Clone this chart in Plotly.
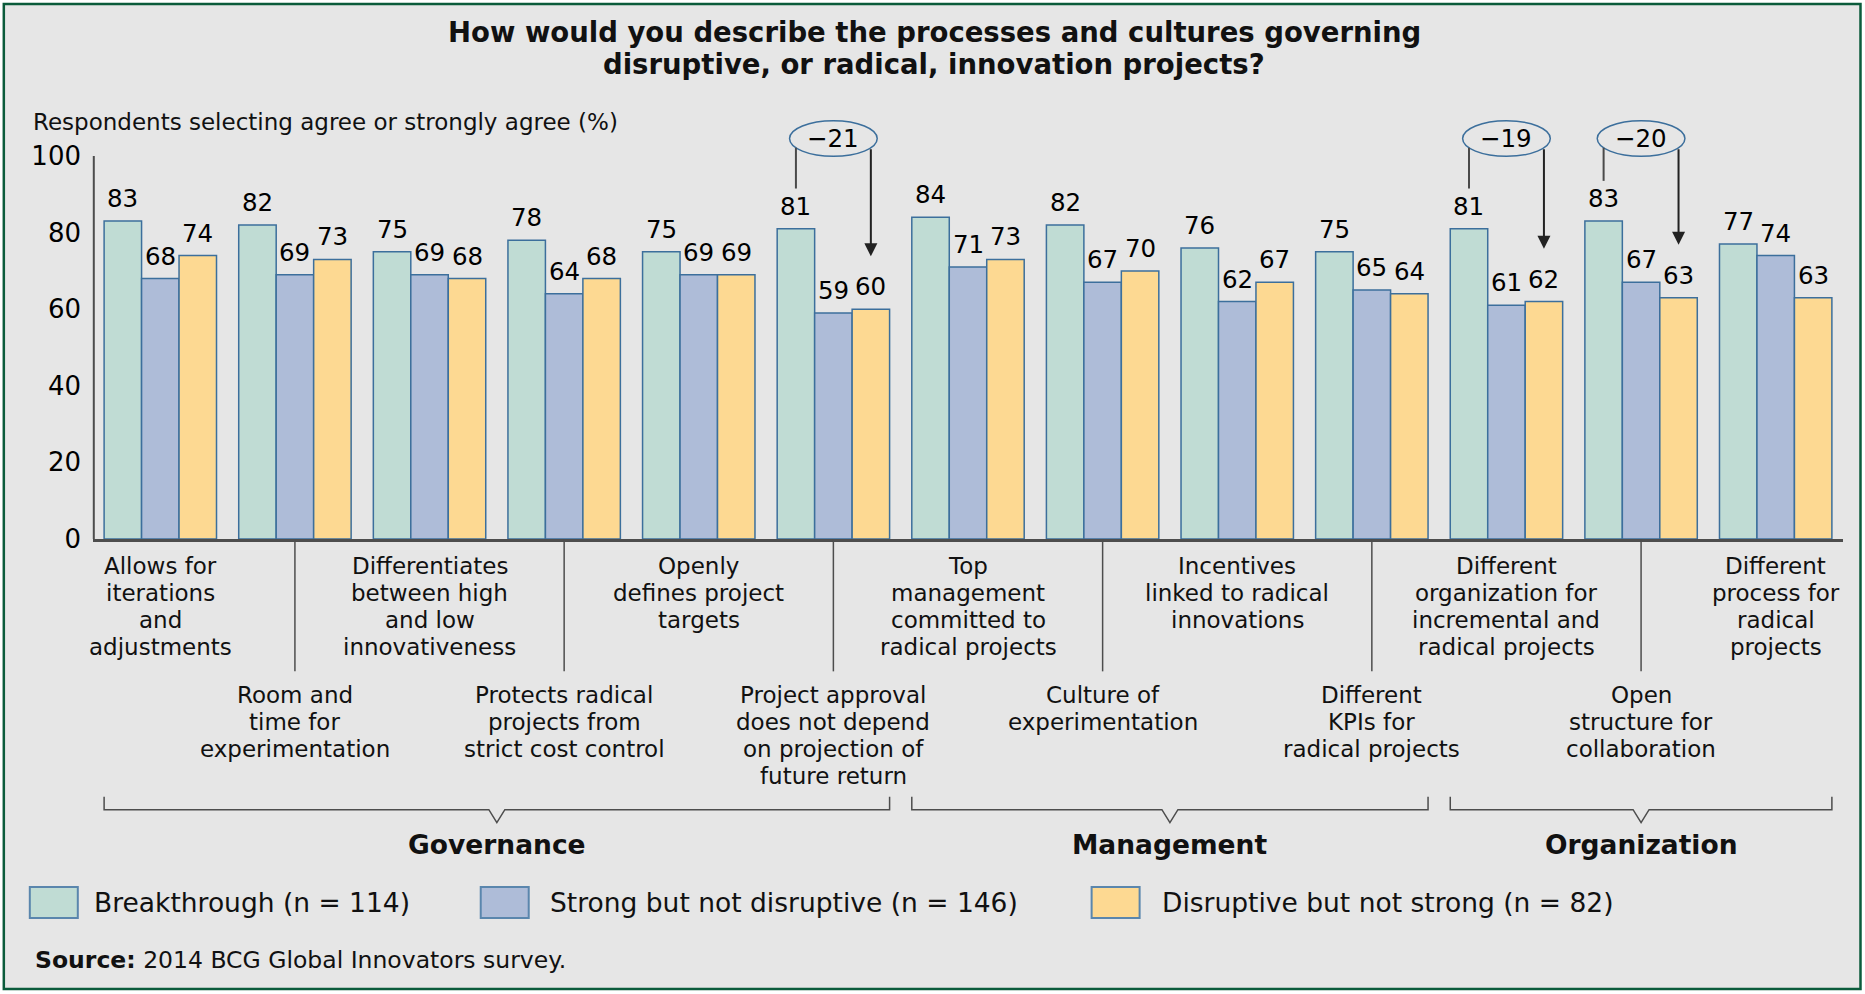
import plotly.graph_objects as go

# ---- data -------------------------------------------------------------
categories = [
    "Allows for\niterations\nand\nadjustments",
    "Room and\ntime for\nexperimentation",
    "Differentiates\nbetween high\nand low\ninnovativeness",
    "Protects radical\nprojects from\nstrict cost control",
    "Openly\ndefines project\ntargets",
    "Project approval\ndoes not depend\non projection of\nfuture return",
    "Top\nmanagement\ncommitted to\nradical projects",
    "Culture of\nexperimentation",
    "Incentives\nlinked to radical\ninnovations",
    "Different\nKPIs for\nradical projects",
    "Different\norganization for\nincremental and\nradical projects",
    "Open\nstructure for\ncollaboration",
    "Different\nprocess for\nradical\nprojects",
]
breakthrough = [83, 82, 75, 78, 75, 81, 84, 82, 76, 75, 81, 83, 77]
strong_not_disruptive = [68, 69, 69, 64, 69, 59, 71, 67, 62, 65, 61, 67, 74]
disruptive_not_strong = [74, 73, 68, 68, 69, 60, 73, 70, 67, 64, 62, 63, 63]
series_names = [
    "Breakthrough (n = 114)",
    "Strong but not disruptive (n = 146)",
    "Disruptive but not strong (n = 82)",
]
group_names = ["Governance", "Management", "Organization"]
group_first = [0, 6, 10]
group_last = [5, 9, 12]
callout_items = [5, 10, 11]
y_ticks = [0, 20, 40, 60, 80, 100]

# ---- styling ----------------------------------------------------------
W, H = 1865, 994
L, R, T, B = 93.2, 21.5, 110, 454.5
PW, PH = W - L - R, H - T - B
FONT = "DejaVu Sans"
TEXT = "#111111"
BG = "#e6e6e6"
FRAME = "#0b5b3b"
OUTLINE = "#3c6f9c"
AXIS = "#4d4d4d"
COLORS = ["#c0dcd4", "#aebcd8", "#fdd992"]
BARGAP = 0.165
BAR_W = (1 - BARGAP) / 3


def px(xp):
    """page pixel x -> paper x"""
    return (xp - L) / PW


def py(yp):
    """page pixel y (from top) -> paper y"""
    return (H - B - yp) / PH


n = len(categories)
xs = list(range(n))
series = [breakthrough, strong_not_disruptive, disruptive_not_strong]

fig = go.Figure()
for name, vals, color in zip(series_names, series, COLORS):
    fig.add_trace(go.Bar(
        x=xs, y=vals, name=name,
        marker=dict(color=color, line=dict(color=OUTLINE, width=1.5)),
        showlegend=False, hoverinfo="skip",
    ))

shapes = []
annotations = []

# value labels above each bar
for k, vals in enumerate(series):
    for i, v in enumerate(vals):
        annotations.append(dict(x=i + (k - 1) * BAR_W, y=v, xref="x", yref="y",
                                text=str(v), showarrow=False, yanchor="bottom",
                                yshift=6, font=dict(family=FONT, size=24.5, color="#000")))

# page background with thin green frame
shapes.append(dict(type="rect", xref="paper", yref="paper",
                   x0=px(4), x1=px(1861), y0=py(990), y1=py(4),
                   fillcolor=BG, line=dict(color=FRAME, width=2.5), layer="below"))

# vertical value axis line (0..100)
shapes.append(dict(type="line", xref="paper", yref="y",
                   x0=px(94), x1=px(94), y0=0, y1=100,
                   line=dict(color=AXIS, width=2)))

# separators between staggered category labels
for i in range(1, n, 2):
    shapes.append(dict(type="line", xref="x", yref="paper",
                       x0=i, x1=i, y0=py(539.5), y1=py(672),
                       line=dict(color=AXIS, width=1.5)))

# category labels, two staggered rows
LINE_H = 27
for i, cat in enumerate(categories):
    top = 567 if i % 2 == 0 else 695.5
    for k, line in enumerate(cat.split("\n")):
        annotations.append(dict(x=i, y=py(top + LINE_H * k), xref="x", yref="paper",
                                text=line, showarrow=False, yanchor="middle",
                                font=dict(family=FONT, size=23, color=TEXT)))

# group brackets and titles
half = (1 - BARGAP) / 2
notch = 8 / (PW / n)
y_top, y_line, y_bot = py(797.5), py(810.5), py(823.5)
for gname, a, b in zip(group_names, group_first, group_last):
    x0, x1 = a - half, b + half
    c = (x0 + x1) / 2
    path = (f"M {x0},{y_top} L {x0},{y_line} L {c - notch},{y_line} "
            f"L {c},{y_bot} L {c + notch},{y_line} L {x1},{y_line} L {x1},{y_top}")
    shapes.append(dict(type="path", xref="x", yref="paper", path=path,
                       line=dict(color=AXIS, width=1.5)))
    annotations.append(dict(x=c, y=py(845.7), xref="x", yref="paper",
                            text=f"<b>{gname}</b>", showarrow=False, yanchor="middle",
                            font=dict(family=FONT, size=26.5, color=TEXT)))

# callouts: gap between breakthrough and disruptive-not-strong
E_Y0, E_Y1 = 99.9, 109.2
E_HW = 43.85 / (PW / n)
e_c, e_h = (E_Y0 + E_Y1) / 2, (E_Y1 - E_Y0) / 2
attach = e_c - e_h * (1 - (BAR_W / E_HW) ** 2) ** 0.5
for i in callout_items:
    diff = disruptive_not_strong[i] - breakthrough[i]
    shapes.append(dict(type="circle", xref="x", yref="y",
                       x0=i - E_HW, x1=i + E_HW, y0=E_Y0, y1=E_Y1,
                       line=dict(color=OUTLINE, width=1.5)))
    shapes.append(dict(type="line", xref="x", yref="y",
                       x0=i - BAR_W, x1=i - BAR_W,
                       y0=breakthrough[i] + 10.5, y1=attach,
                       line=dict(color="#4a4a4a", width=2)))
    annotations.append(dict(x=i + BAR_W, y=disruptive_not_strong[i] + 13.8,
                            ax=i + BAR_W, ay=attach, xref="x", yref="y",
                            axref="x", ayref="y", text="", showarrow=True,
                            arrowhead=2, arrowsize=1.3, arrowwidth=2,
                            arrowcolor="#222222", standoff=0, startstandoff=0))
    annotations.append(dict(x=i, y=e_c, xref="x", yref="y",
                            text=f"\u2212{abs(diff)}", showarrow=False,
                            font=dict(family=FONT, size=24.5, color="#000")))

# legend
legend_box_x = [30, 481, 1092]
legend_text_x = [92, 548, 1160]
for name, color, bx, tx in zip(series_names, COLORS, legend_box_x, legend_text_x):
    shapes.append(dict(type="rect", xref="paper", yref="paper",
                       x0=px(bx), x1=px(bx + 48), y0=py(919), y1=py(888),
                       fillcolor=color, line=dict(color="#5a86ad", width=2)))
    annotations.append(dict(x=px(tx), y=py(903.5), xref="paper", yref="paper",
                            text=name, showarrow=False, xanchor="left", yanchor="middle",
                            font=dict(family=FONT, size=26.5, color=TEXT)))

# title, axis caption, source
for text, yc in [("How would you describe the processes and cultures governing", 31.5),
                 ("disruptive, or radical, innovation projects?", 63.8)]:
    annotations.append(dict(x=px(934.5), y=py(yc), xref="paper", yref="paper",
                            text=f"<b>{text}</b>", showarrow=False,
                            xanchor="center", yanchor="middle",
                            font=dict(family=FONT, size=27.5, color=TEXT)))
annotations.append(dict(x=px(31), y=py(122.5), xref="paper", yref="paper",
                        text="Respondents selecting agree or strongly agree (%)",
                        showarrow=False, xanchor="left", yanchor="middle",
                        font=dict(family=FONT, size=23, color=TEXT)))
annotations.append(dict(x=px(33), y=py(960.5), xref="paper", yref="paper",
                        text="<b>Source:</b> 2014 BCG Global Innovators survey.",
                        showarrow=False, xanchor="left", yanchor="middle",
                        font=dict(family=FONT, size=23.5, color=TEXT)))

fig.update_layout(
    width=W, height=H,
    margin=dict(l=L, r=R, t=T, b=B, autoexpand=False),
    paper_bgcolor="white", plot_bgcolor="rgba(0,0,0,0)",
    barmode="group", bargap=BARGAP, bargroupgap=0,
    shapes=shapes, annotations=annotations,
    font=dict(family=FONT, color=TEXT),
    xaxis=dict(range=[-0.5, n - 0.5], showticklabels=False, showgrid=False,
               zeroline=False, ticks="", showline=True, linecolor=AXIS, linewidth=2.5),
    yaxis=dict(range=[0, 112], tickvals=y_ticks, ticktext=[str(t) for t in y_ticks],
               showgrid=False, zeroline=False, showline=False, ticks="",
               ticklabelstandoff=11, tickfont=dict(family=FONT, size=26, color="#000")),
)

fig.write_html("out.html")
